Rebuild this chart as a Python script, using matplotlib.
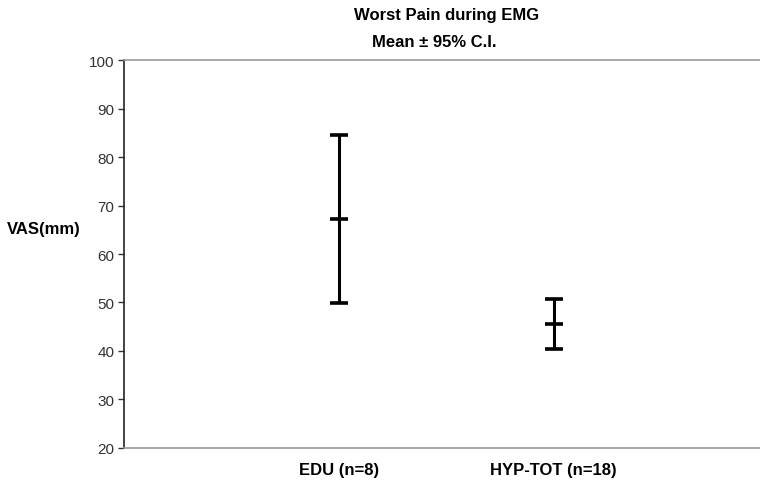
import matplotlib.pyplot as plt
from matplotlib import font_manager

# Worst Pain during EMG - mean with 95% confidence interval
groups = ["EDU (n=8)", "HYP-TOT (n=18)"]
means = [67.2, 45.5]
ci_low = [49.9, 40.4]
ci_high = [84.6, 50.8]

fam = ["Liberation Sans Narrow", "Liberation Sans", "DejaVu Sans"]
names = {f.name for f in font_manager.fontManager.ttflist}
fam = [f for f in fam if f in names] or ["DejaVu Sans"]
plt.rcParams['font.family'] = fam

fig = plt.figure(figsize=(7.6, 4.89), dpi=100)
ax = fig.add_axes([0.163, 0.082, 0.837, 0.793])

xs = [1, 2]
err = [[m - lo for m, lo in zip(means, ci_low)],
       [hi - m for m, hi in zip(means, ci_high)]]
ax.errorbar(xs, means, yerr=err, fmt='_', color='black', ecolor='black',
            elinewidth=2.2, capsize=6.2, capthick=2.6,
            markersize=12.4, markeredgewidth=2.6)

ax.set_ylim(20, 100)
ax.set_xlim(0, 2.96)
ax.set_yticks(range(20, 101, 10))
ax.set_xticks(xs)
ax.set_xticklabels(groups, fontsize=12, fontweight='bold')
ax.tick_params(axis='x', length=0, pad=10)
ax.tick_params(axis='y', direction='out', length=4, width=1, color='#333333',
               labelsize=11, labelcolor='#333333', pad=3)

for s in ['top', 'bottom']:
    ax.spines[s].set_color('#999999')
    ax.spines[s].set_linewidth(1.2)
ax.spines['right'].set_visible(False)
ax.spines['left'].set_color('#222222')
ax.spines['left'].set_linewidth(1.2)

fig.text(0.588, 0.968, "Worst Pain during EMG", ha='center', va='center',
         fontsize=12, fontweight='bold')
fig.text(0.571, 0.914, "Mean \u00b1 95% C.I.", ha='center', va='center',
         fontsize=12, fontweight='bold')
fig.text(0.058, 0.53, "VAS(mm)", ha='center', va='center',
         fontsize=12, fontweight='bold')

fig.savefig("out.png", dpi=100)
